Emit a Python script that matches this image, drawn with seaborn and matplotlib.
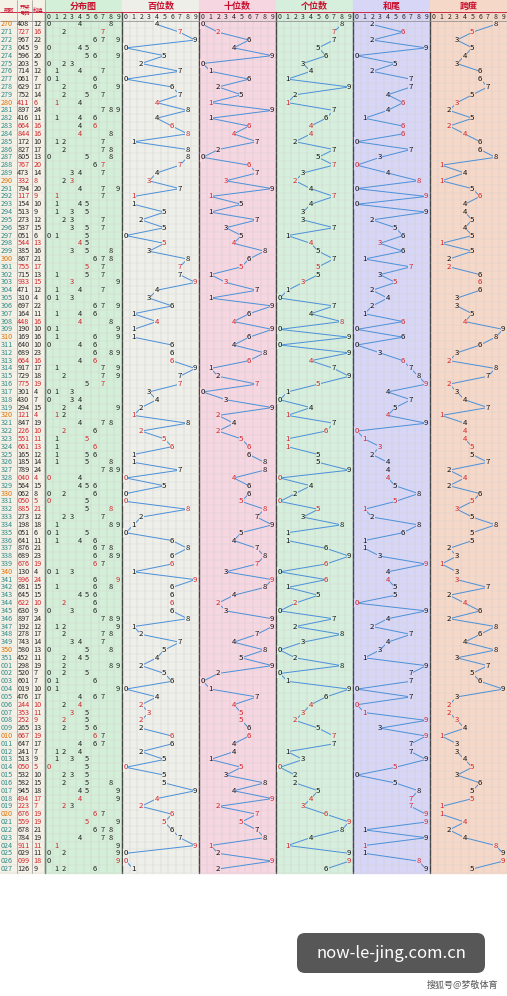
import matplotlib
matplotlib.use("Agg")
import matplotlib.pyplot as plt
import seaborn as sns
import pandas as pd
from matplotlib.patches import Rectangle, FancyBboxPatch

sns.set_theme(style="white")
plt.rcParams['font.family'] = ['Noto Sans CJK SC', 'DejaVu Sans']

periods = [str(p) for p in range(270, 352)] + ["%03d" % p for p in range(1, 28)]
numbers = ["408","727","967","045","596","203","714","061","629","752","411","897","416","664","844","172","827",
           "805","767","473","332","794","117","154","513","273","537","051","544","385","867","755","715","933",
           "471","310","697","164","448","190","169","640","689","664","917","729","775","301","430","294","121",
           "847","226","551","661","165","185","789","040","564","062","050","885","273","198","051","641","876",
           "689","676","130","996","681","645","622","630","897","192","278","743","580","452","298","520","601",
           "019","476","244","353","252","265","667","647","241","513","050","532","582","945","494","223","676",
           "559","678","784","911","029","099","126"]
panel_titles = ["分布图", "百位数", "十位数", "个位数", "和尾", "跨度"]
head_titles = ["期数", "开奖\n号码", "和值"]
panel_colors = ["#d4efd8", "#efefea", "#f6d6e0", "#d6efdc", "#d8d6f6", "#f6d8c8"]

n = len(numbers)
d = [[int(c) for c in s] for s in numbers]
df = pd.DataFrame({"period": periods[:n], "num": numbers, "row": range(n)})
df["h"] = [x[0] for x in d]; df["t"] = [x[1] for x in d]; df["u"] = [x[2] for x in d]
df["sum"] = [sum(x) for x in d]; df["tail"] = df["sum"] % 10
df["span"] = [max(x) - min(x) for x in d]
df["pair"] = [len(set(x)) < 3 for x in d]

W, H = 507, 996
fig = plt.figure(figsize=(W/100, H/100), dpi=100)
ax = fig.add_axes([0, 0, 1, 1])
ax.set_xlim(0, W); ax.set_ylim(H, 0); ax.axis("off")
top, rh = 20.5, 7.82
ystart = lambda r: top + (r + 0.5) * rh
panel_x0 = [45, 122, 199, 276, 353, 430]
pw = 77
cw = pw / 10
bottom = top + n * rh

ax.add_patch(Rectangle((0, 0), 45, bottom, color="#f4f1e6", zorder=0))
for k, x0 in enumerate(panel_x0):
    ax.add_patch(Rectangle((x0, 0), pw, bottom, color=panel_colors[k], zorder=0))
    for j in range(11):
        ax.plot([x0 + j*cw]*2, [12, bottom], color="#c8c8c8" if j else "#444", lw=0.3 if j else 1.0, zorder=1)
    for j in range(10):
        ax.text(x0 + (j+0.5)*cw, 16.5, str(j), ha="center", va="center", fontsize=5, color="#222", zorder=3)
    ax.text(x0 + pw/2, 6, panel_titles[k], ha="center", va="center", fontsize=6.5, color="#c8102e", fontweight="bold")
for r in range(n + 1):
    ax.plot([0, W], [top + r*rh]*2, color="#cfcfcf", lw=0.25, zorder=1)
ax.plot([0, W], [12, 12], color="#c8102e", lw=0.6)
ax.plot([0, W], [top, top], color="#888", lw=0.5)
for x in (17, 32, 45):
    ax.plot([x, x], [0, bottom], color="#999", lw=0.5)
for x, t in zip([8.5, 24.5, 38.5], head_titles):
    ax.text(x, 10, t, ha="center", va="center", fontsize=3.8, color="#c8102e")

for _, r in df.iterrows():
    y = ystart(r.row)
    col = "#d2232a" if r.pair else "#222"
    ax.text(0.5, y, r.period, fontsize=5.2, va="center", color="#2a8a8a" if int(r.period) % 10 else "#e07000")
    ax.text(17.3, y, r.num, fontsize=5.2, va="center", color=col)
    ax.text(33.5, y, str(r["sum"]), fontsize=5.2, va="center", color=col)
    for dig in sorted(set(d[r.row])):
        rep = d[r.row].count(dig) > 1
        ax.text(panel_x0[0] + (dig+0.5)*cw, y, str(dig), ha="center", va="center", fontsize=5.4,
                color="#d2232a" if rep else "#222", zorder=3)

cols = ["h", "t", "u", "tail", "span"]
for k, c in enumerate(cols):
    x0 = panel_x0[k + 1]
    sub = pd.DataFrame({"x": x0 + (df[c] + 0.5) * cw, "y": [ystart(i) for i in df.row]})
    sns.lineplot(data=sub, x="x", y="y", sort=False, estimator=None, ax=ax, color="#4a90d9", lw=0.7, zorder=2)
    for i, r in df.iterrows():
        ax.text(x0 + (r[c] + 0.5)*cw, ystart(i), str(r[c]), ha="center", va="center", fontsize=5.6,
                color="#d2232a" if r.pair else "#111", zorder=3,
                bbox=dict(boxstyle="square,pad=0.05", fc=panel_colors[k+1], ec="none"))

ax.set_xlim(0, W); ax.set_ylim(H, 0)
ax.set_xlabel(""); ax.set_ylabel("")
ax.add_patch(FancyBboxPatch((297, 933), 188, 40, boxstyle="round,pad=0,rounding_size=8", fc="#3a3a3a", ec="none", alpha=0.85))
ax.text(391, 953, "now-le-jing.com.cn", ha="center", va="center", fontsize=12, color="white")
ax.text(498, 985, "搜狐号@梦敬体育", ha="right", va="center", fontsize=6.5, color="#555")
fig.savefig("out.png", dpi=100)
